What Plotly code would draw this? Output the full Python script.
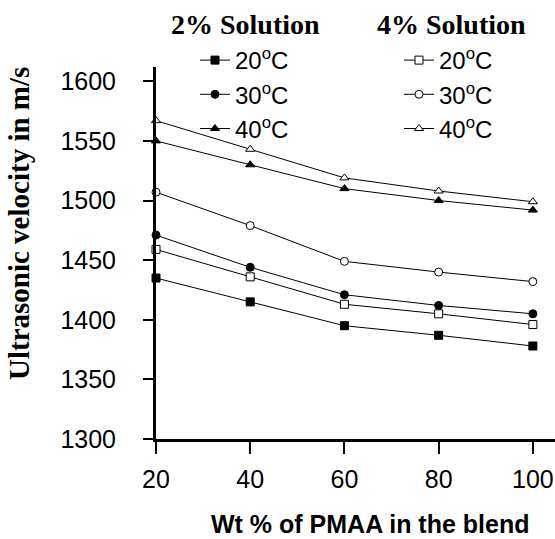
import plotly.graph_objects as go

x_wt = [20, 40, 60, 80, 100]

sol2_20 = [1435, 1415, 1395, 1387, 1378]
sol2_30 = [1471, 1444, 1421, 1412, 1405]
sol2_40 = [1550, 1530, 1510, 1500, 1492]
sol4_20 = [1459, 1436, 1413, 1405, 1396]
sol4_30 = [1507, 1479, 1449, 1440, 1432]
sol4_40 = [1567, 1543, 1519, 1508, 1499]

temp_labels = ["20<sup>o</sup>C", "30<sup>o</sup>C", "40<sup>o</sup>C"]
group_titles = ["2% Solution", "4% Solution"]
y_ticks = [1300, 1350, 1400, 1450, 1500, 1550, 1600]
x_ticks = [20, 40, 60, 80, 100]

series = [
    (sol2_20, temp_labels[0], "square", "black", "legend"),
    (sol2_30, temp_labels[1], "circle", "black", "legend"),
    (sol2_40, temp_labels[2], "triangle-up", "black", "legend"),
    (sol4_20, temp_labels[0], "square", "white", "legend2"),
    (sol4_30, temp_labels[1], "circle", "white", "legend2"),
    (sol4_40, temp_labels[2], "triangle-up", "white", "legend2"),
]

fig = go.Figure()
for vals, name, sym, fill, leg in series:
    fig.add_trace(go.Scatter(
        x=x_wt, y=vals, name=name, mode="lines+markers",
        line=dict(color="black", width=1),
        marker=dict(symbol=sym, size=8, color=fill, line=dict(color="black", width=1)),
        legend=leg, cliponaxis=False,
    ))

legend_font = dict(family="Liberation Sans", size=24, color="black")
group_font = dict(family="Liberation Serif", size=28, color="black", weight="bold")

# plot area in page pixels: x 156..555, y 67..439
PW, PH = 399, 372

def px(xp):
    return (xp - 156) / PW

def py(yp):
    return (439 - yp) / PH

fig.update_layout(
    width=555, height=539,
    margin=dict(l=156, r=0, t=67, b=100),
    plot_bgcolor="white", paper_bgcolor="white",
    showlegend=True,
    legend=dict(
        x=px(195), y=py(38), xanchor="left", yanchor="top",
        bgcolor="rgba(0,0,0,0)", font=legend_font, tracegroupgap=0,
    ),
    legend2=dict(
        x=px(399), y=py(38), xanchor="left", yanchor="top",
        bgcolor="rgba(0,0,0,0)", font=legend_font, tracegroupgap=0,
    ),
    xaxis=dict(
        range=[20, 104.7], tickvals=x_ticks, showgrid=False, zeroline=False,
        showline=True, linecolor="black", linewidth=3,
        ticks="outside", ticklen=12, tickwidth=2, tickcolor="black",
        ticklabelstandoff=4,
        tickfont=dict(family="Liberation Sans", size=25, color="black"),
    ),
    yaxis=dict(
        range=[1300, 1612], tickvals=y_ticks, showgrid=False, zeroline=False,
        showline=True, linecolor="black", linewidth=3,
        ticks="outside", ticklen=10, tickwidth=2, tickcolor="black",
        ticklabelstandoff=22,
        tickfont=dict(family="Liberation Sans", size=25, color="black"),
    ),
    annotations=[
        dict(text=group_titles[0], xref="paper", yref="paper",
             x=px(245), y=py(24), xanchor="center", yanchor="middle",
             showarrow=False, font=group_font),
        dict(text=group_titles[1], xref="paper", yref="paper",
             x=px(451), y=py(24), xanchor="center", yanchor="middle",
             showarrow=False, font=group_font),
        dict(text="<b>Wt % of PMAA in the blend</b>", xref="paper", yref="paper",
             x=px(370), y=py(524), xanchor="center", yanchor="middle",
             showarrow=False, font=dict(family="Liberation Sans", size=25, color="black")),
        dict(text="Ultrasonic velocity in m/s", xref="paper", yref="paper",
             x=px(19), y=py(224), xanchor="center", yanchor="middle",
             textangle=-90, showarrow=False,
             font=dict(family="Liberation Serif", size=29, color="black", weight="bold")),
    ],
)

fig.write_html("out.html", config={"displayModeBar": False},
               post_script="document.body.style.margin='0';")
